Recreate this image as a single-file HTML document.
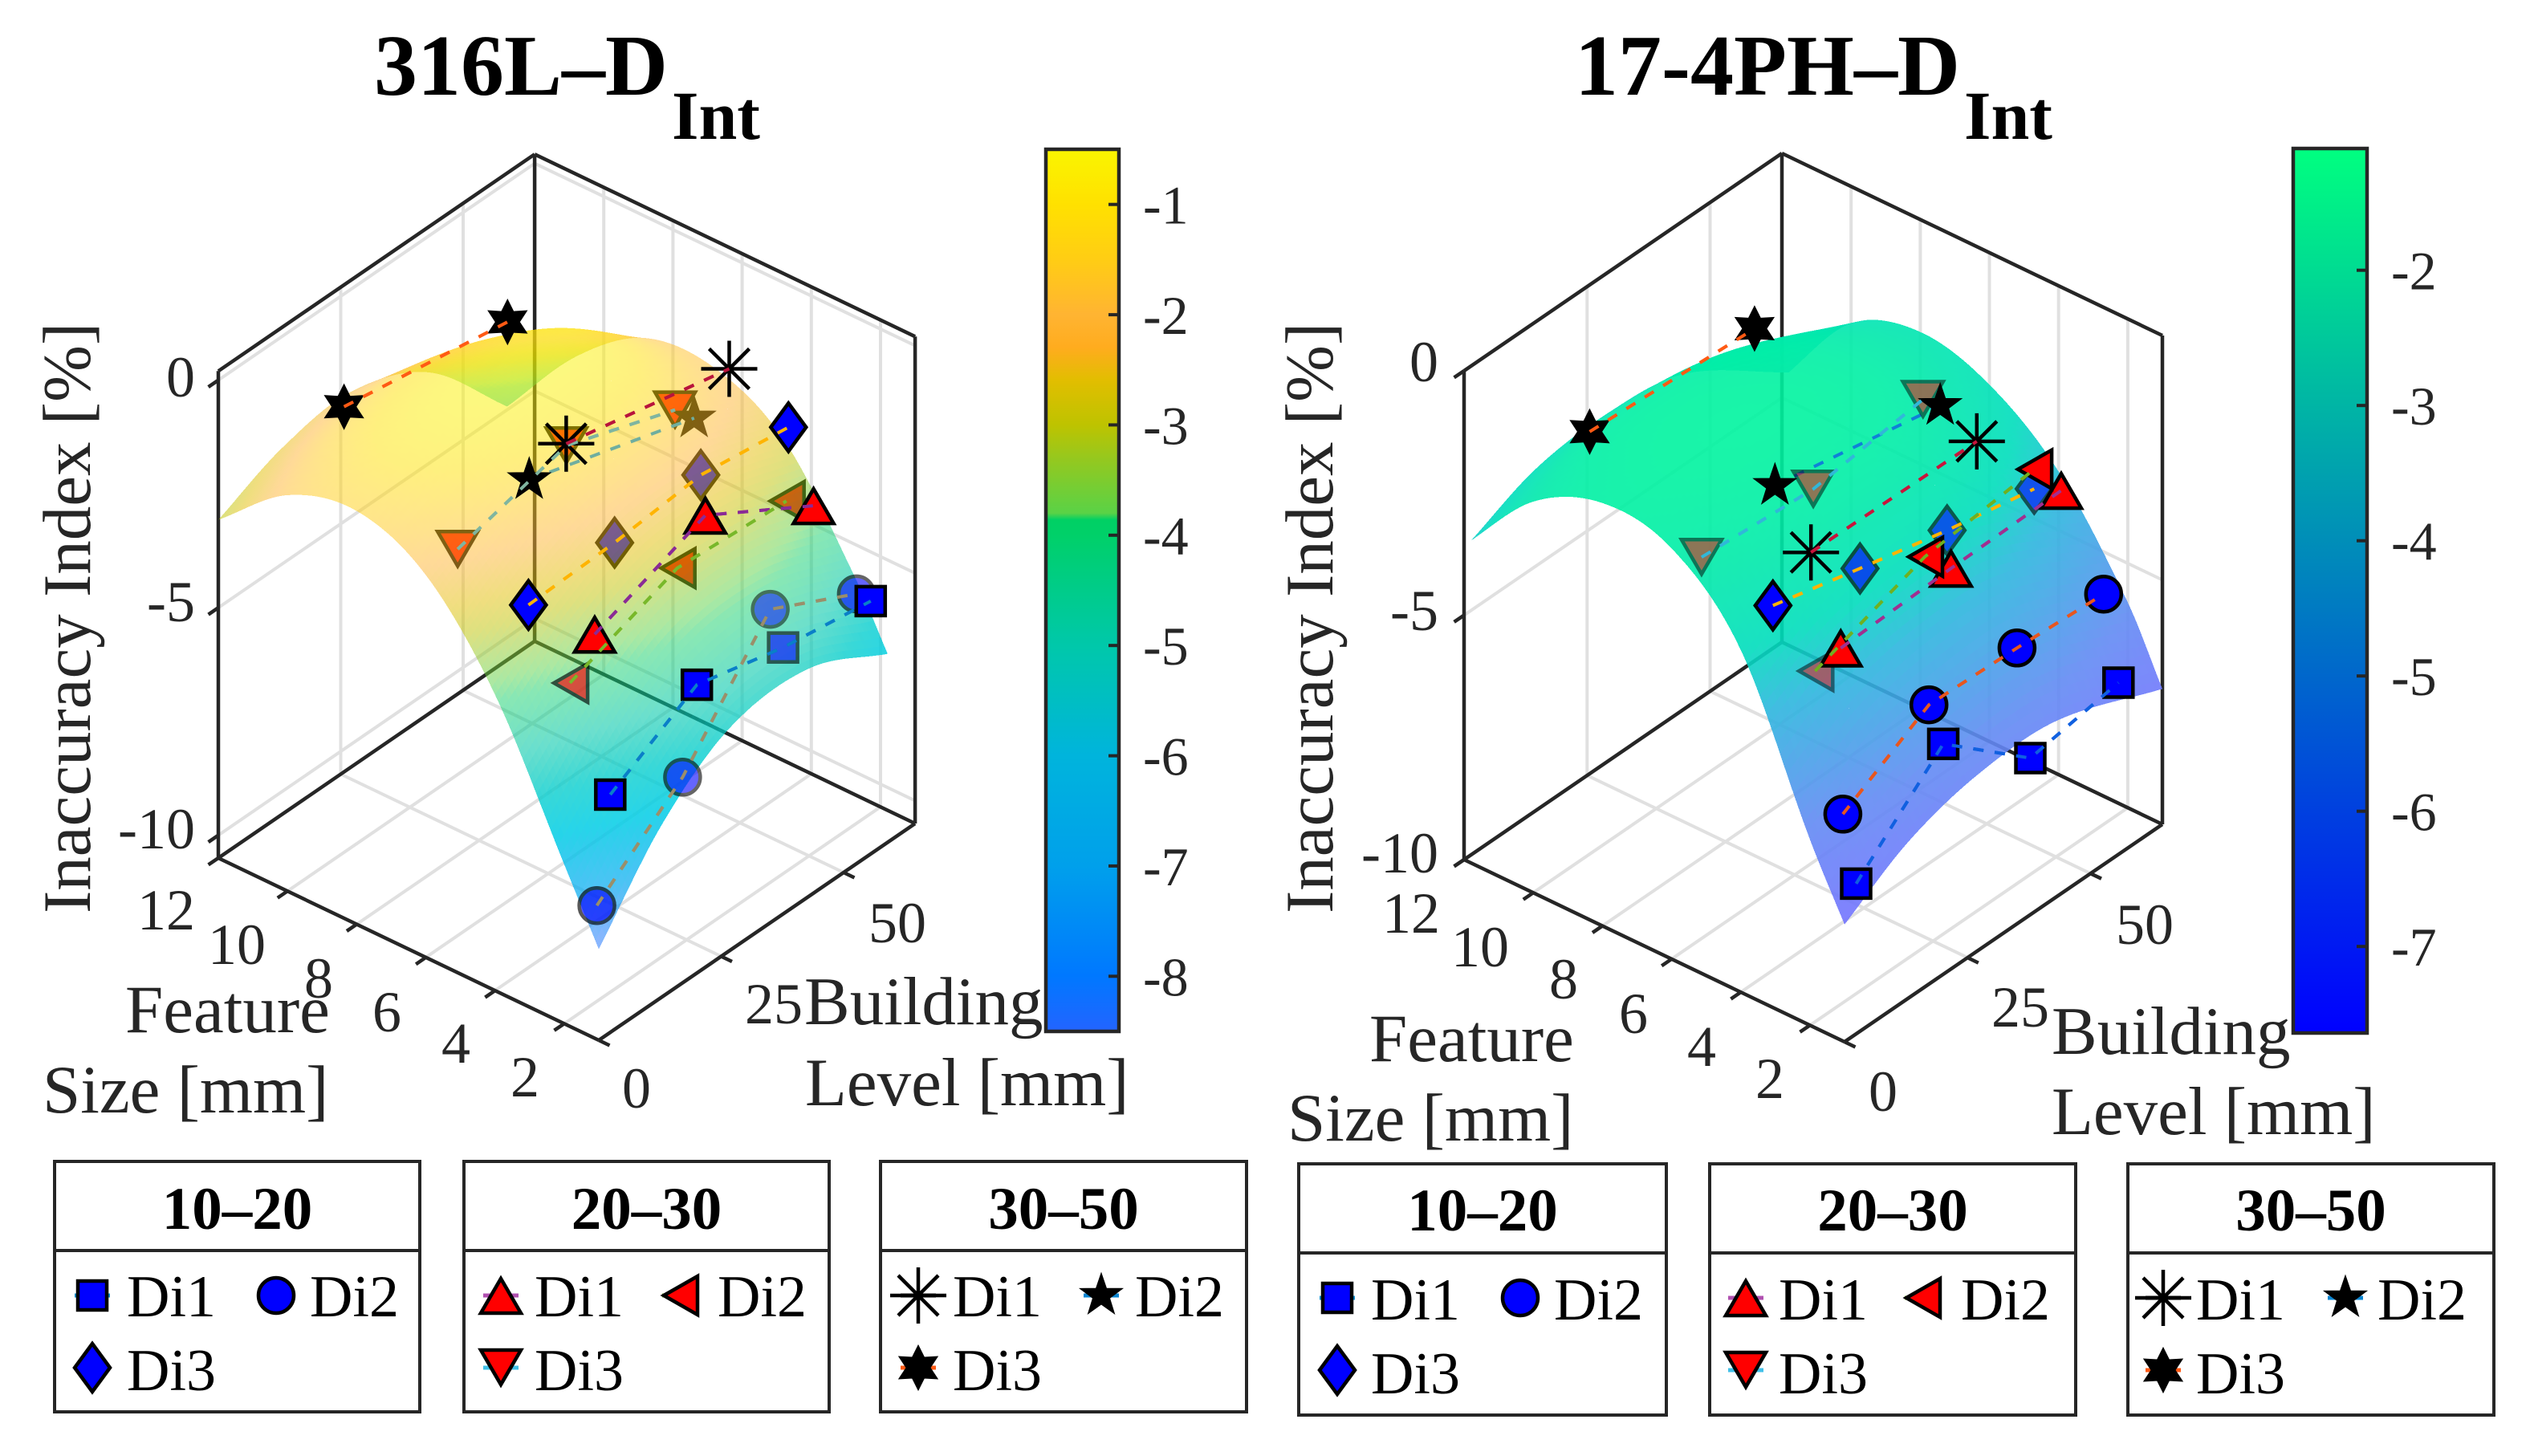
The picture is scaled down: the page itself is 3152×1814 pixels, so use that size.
<!DOCTYPE html>
<html lang="en">
<head>
<meta charset="utf-8">
<title>316L and 17-4PH inaccuracy index surfaces</title>
<style>
html,body{margin:0;padding:0;background:#fff}
svg{display:block}
text{font-family:"Liberation Serif",serif;fill:#262626}
.blk{fill:#000}
</style>
</head>
<body>
<svg id="fig" xmlns="http://www.w3.org/2000/svg" width="3152" height="1814" viewBox="0 0 3152 1814">
<rect width="3152" height="1814" fill="#fff"/>
<text class="blk" x="466" y="118" font-size="108" font-weight="bold">316L–D</text>
<text class="blk" x="837" y="173" font-size="86" font-weight="bold">Int</text>
<text class="blk" x="1962" y="118" font-size="108" font-weight="bold">17-4PH–D</text>
<text class="blk" x="2447" y="173" font-size="86" font-weight="bold">Int</text>
<text transform="translate(112,1138) rotate(-90)" font-size="85">Inaccuracy Index [%]</text>
<text transform="translate(1660,1138) rotate(-90)" font-size="85">Inaccuracy Index [%]</text>
<text x="156" y="1286" font-size="85">Feature</text>
<text x="53" y="1386" font-size="85">Size [mm]</text>
<text x="1002" y="1276" font-size="85">Building</text>
<text x="1003" y="1377" font-size="85">Level [mm]</text>
<text x="1706" y="1322" font-size="85">Feature</text>
<text x="1604" y="1421" font-size="85">Size [mm]</text>
<text x="2556" y="1313" font-size="85">Building</text>
<text x="2556" y="1413" font-size="85">Level [mm]</text>
</svg>
<script>
// ---------- shared axis data ----------
const featureTicks = [2,4,6,8,10,12];
const levelTicks = [0,25,50];
const indexTicks = [0,-5,-10];
const surfaceFeatures = [1,2,4,6,8,10,12];
const seriesLabels = ['10–20 Di1','10–20 Di2','10–20 Di3','20–30 Di1','20–30 Di2','20–30 Di3','30–50 Di1','30–50 Di2','30–50 Di3'];

// ---------- 316L surface: rows follow surfaceFeatures, columns follow leftLevels ----------
const leftLevels = [0,13,27,43,59];
const leftSurface = [
  [-8.5,-6.7,-5.6,-5.5,-6.36],
  [-7.0,-5.4,-4.4,-4.3,-4.95],
  [-4.0,-2.9,-2.2,-2.2,-2.75],
  [-2.1,-1.3,-0.9,-1.0,-1.9],
  [-1.42,-0.8,-0.55,-0.68,-1.97],
  [-1.8,-1.25,-1.05,-1.5,-3.1],
  [-3.07,-2.45,-2.25,-3.0,-4.93]
];
// ---------- 316L markers ----------
const leftSeriesFeature = [2,2.4,4.35,3,4,6,5,6,11];
const leftSeriesLevels = [
  [9.4,27.1,44.7,62.6],[9.5,27,44.9,62.5],[9.3,26.9,44.5,62.4],
  [13.3,35.9,58],[15.3,37.2,59.5],[6.5,28.7,50.9],
  [21.6,54.9],[21.1,54.8],[18.6,52]
];
const leftSeriesValues = [
  [-6.16,-5.05,-5.53,-5.83],[-8.75,-7.22,-4.85,-5.81],[-2.84,-2.77,-2.58,-2.85],
  [-3.29,-2.34,-3.76],[-4.87,-3.96,-4.13],[-2.01,-1.37,-2.22],
  [-0.44,-1.25],[-1.56,-2.69],[-1.59,-2.19]
];
// how much of each marker the surface hides: 0 none, 1 drawn beneath the surface, fraction = translucent veil
const leftSeriesCover = [
  [0,0,.4,0],[.35,.4,.5,.4],[0,1,1,0],
  [0,0,0],[.35,1,1],[1,1,1],
  [0,0],[0,1],[0,0]
];

// ---------- 17-4PH surface ----------
const rightLevels = [0,13,27,43,64.6];
const rightSurface = [
  [-7.6,-6.8,-6.4,-6.4,-7.23],
  [-6.2,-5.3,-4.9,-4.9,-5.8],
  [-3.0,-2.3,-2.1,-2.4,-3.8],
  [-1.6,-1.3,-1.2,-1.5,-2.7],
  [-1.35,-1.15,-1.12,-1.4,-2.3],
  [-2.0,-1.55,-1.5,-1.8,-2.8],
  [-3.57,-3.0,-2.85,-3.1,-4.6]
];
// ---------- 17-4PH markers ----------
const rightSeriesFeature = [2,2.4,4.35,3,4,6,5,6,11];
const rightSeriesLevels = [
  [9.4,27.1,44.8,62.7],[9.5,27,44.9,62.5],[9,26.7,44.4,62.1],
  [13.3,35.7,58.1],[15.1,37.4,59.6],[6.1,28.8,51.1],
  [21.3,55],[21,54.6],[18.5,52]
];
const rightSeriesValues = [
  [-7.75,-6.11,-7.62,-7.31],[-6.47,-5.44,-5.51,-5.62],[-2.83,-3.29,-3.73,-4.1],
  [-3.54,-3.45,-3.4],[-4.47,-3.67,-3.41],[-2.2,-2.37,-2.07],
  [-2.81,-2.86],[-1.76,-2.44],[-2.18,-2.38]
];
const rightSeriesCover = [
  [0,0,0,0],[0,0,0,0],[0,.35,.4,.4],
  [0,0,0],[.5,0,0],[.5,.5,.5],
  [0,0],[0,0],[0,0]
];

// ---------- colorbar ticks ----------
const leftBarTicks = [-1,-2,-3,-4,-5,-6,-7,-8];
const rightBarTicks = [-2,-3,-4,-5,-6,-7];

// ---------- styles ----------
const markerKinds = ['square','circle','diamond','up','left','down','asterisk','star5','star6'];
const markerFills = ['#0000ff','#0000ff','#0000ff','#ff0000','#ff0000','#ff0000','none','#000','#000'];
const leftLineColors = ['#0a7fc8','#9a8f6a','#ffb400','#8a2a96','#78b82a','#7fb5a0','#b8143c','#6fae9f','#ff5a14'];
const rightLineColors = ['#1060e0','#e8561e','#ffb400','#a03090','#70b020','#30b8d8','#c8143c','#1080d8','#ff5a14'];
const legendLineColors = ['#0a8fd0','#0000ff','#0000ff','#b050b0','#78b82a','#40c0e8','#000','#0a84d0','#ff5a14'];

const leftBarStops = [[-0.5,250,245,0],[-1,255,225,0],[-1.5,255,205,20],[-2,255,180,50],[-2.3,255,172,30],[-2.6,225,190,0],[-3,190,195,0],[-3.3,150,200,30],[-3.8,90,210,70],[-3.86,0,208,100],[-4,0,208,105],[-5,0,200,170],[-6,0,180,220],[-7,0,160,235],[-8,0,120,255],[-8.5,35,100,255]];
const rightBarStops = [[-1.1,0,255,128],[-7.64,0,0,255]];
const leftSurfaceStops = [[-0.5,250,245,0,.5],[-1,255,225,0,.5],[-2,255,180,50,.5],[-2.6,225,190,0,.5],[-3,190,195,0,.5],[-3.3,150,200,30,.5],[-3.8,90,210,70,.5],[-4.1,20,208,105,.5],[-5,0,200,170,.58],[-5.8,0,205,205,.78],[-6.5,0,205,230,.85],[-7.5,0,170,240,.7],[-8.5,35,110,255,.5]];
const rightSurfaceStops = [[-1.1,0,244,160,.9],[-2,0,233,172,.9],[-3,0,222,188,.9],[-4,44,183,222,.9],[-5,72,160,233,.9],[-6,99,138,244,.9],[-7.6,116,116,255,.9]];

const NS = 'http://www.w3.org/2000/svg';
const fig = document.getElementById('fig');
function mk(tag, attrs, parent){
  const e = document.createElementNS(NS, tag);
  for (const k in attrs) e.setAttribute(k, attrs[k]);
  (parent || fig).appendChild(e);
  return e;
}
function lerpStops(stops, v){
  const s = stops;
  if (v >= s[0][0]) return s[0].slice(1);
  if (v <= s[s.length-1][0]) return s[s.length-1].slice(1);
  for (let i = 0; i < s.length-1; i++){
    if (v <= s[i][0] && v >= s[i+1][0]){
      const t = (s[i][0]-v)/(s[i][0]-s[i+1][0]);
      return s[i].slice(1).map((c,j)=>c+(s[i+1][j+1]-c)*t);
    }
  }
}
function hermite(xs, ys, x){
  let i = 0;
  while (i < xs.length-2 && x > xs[i+1]) i++;
  const tan = k => k===0 ? (ys[1]-ys[0])/(xs[1]-xs[0]) : k===xs.length-1 ? (ys[k]-ys[k-1])/(xs[k]-xs[k-1]) : (ys[k+1]-ys[k-1])/(xs[k+1]-xs[k-1]);
  const h = xs[i+1]-xs[i], t = (x-xs[i])/h, t2 = t*t, t3 = t2*t;
  return (2*t3-3*t2+1)*ys[i]+(t3-2*t2+t)*h*tan(i)+(-2*t3+3*t2)*ys[i+1]+(t3-t2)*h*tan(i+1);
}
function surfaceAt(levels, table, x, y){
  const col = table.map(row => hermite(levels, row, y));
  return hermite(surfaceFeatures, col, x);
}

function markerShape(kind, fill, cx, cy, parent, stroke, sw){
  const g = mk('g', {transform:`translate(${cx.toFixed(1)},${cy.toFixed(1)})`}, parent);
  const edge = {fill:fill, stroke:stroke, 'stroke-width':sw, 'stroke-linejoin':'miter'};
  const poly = p => mk('polygon', Object.assign({points:p}, edge), g);
  if (kind==='square') mk('rect', Object.assign({x:-18,y:-18,width:36,height:36}, edge), g);
  else if (kind==='circle') mk('circle', Object.assign({r:22}, edge), g);
  else if (kind==='diamond') poly('0,-30 22,0 0,30 -22,0');
  else if (kind==='up') poly('0,-21 25,22 -25,22');
  else if (kind==='down') poly('-25,-22 25,-22 0,21');
  else if (kind==='left') poly('-20,0 22,-24 22,24');
  else if (kind==='asterisk'){
    mk('path', {d:'M-35,0H35M0,-35V35M-25,-25L25,25M-25,25L25,-25', stroke:stroke, 'stroke-width':4.5, fill:'none'}, g);
  } else if (kind==='star5' || kind==='star6'){
    const n = kind==='star5'?5:6, R = 28, r = kind==='star5'?11:15, pts = [];
    for (let i=0;i<2*n;i++){
      const a = -Math.PI/2 + i*Math.PI/n, q = i%2?r:R;
      pts.push((q*Math.cos(a)).toFixed(1)+','+(q*Math.sin(a)).toFixed(1));
    }
    edge['stroke-width'] = 1;
    poly(pts.join(' '));
  }
  return g;
}

function drawChart(c){
  const P = (x,y,z) => [c.F[0]+(x-1)*c.ex[0]+y*c.ey[0], c.F[1]+(x-1)*c.ex[1]+y*c.ey[1]+(z-c.zMin)*c.ez];
  const pt = a => a[0].toFixed(1)+','+a[1].toFixed(1);
  const line = (a,b,parent,st,w) => mk('line',{x1:a[0].toFixed(1),y1:a[1].toFixed(1),x2:b[0].toFixed(1),y2:b[1].toFixed(1),stroke:st,'stroke-width':w},parent);
  const X0=1, X1=12, Y1=c.yMax, Z0=c.zMin, Z1=c.zMax;
  const gridColor='#e0e0e0', gridW=4, axisColor='#262626', axisW=4.5;

  const grid = mk('g',{});
  
  
  featureTicks.forEach(v=>{
    if (v!==X1){ line(P(v,0,Z0),P(v,Y1,Z0),grid,gridColor,gridW); line(P(v,Y1,Z0),P(v,Y1,Z1),grid,gridColor,gridW); }
  });
  levelTicks.forEach(v=>{
    if (v!==0){ line(P(X0,v,Z0),P(X1,v,Z0),grid,gridColor,gridW); line(P(X1,v,Z0),P(X1,v,Z1),grid,gridColor,gridW); }
  });
  indexTicks.forEach(v=>{
    line(P(X1,0,v),P(X1,Y1,v),grid,gridColor,gridW); line(P(X1,Y1,v),P(X0,Y1,v),grid,gridColor,gridW);
  });

  const box = mk('g',{});
  
  
  [[[X1,0,Z0],[X0,0,Z0]],[[X0,0,Z0],[X0,Y1,Z0]],[[X0,Y1,Z0],[X1,Y1,Z0]],[[X1,Y1,Z0],[X1,0,Z0]],
   [[X1,0,Z0],[X1,0,Z1]],[[X0,Y1,Z0],[X0,Y1,Z1]],[[X1,Y1,Z0],[X1,Y1,Z1]],
   [[X1,0,Z1],[X1,Y1,Z1]],[[X1,Y1,Z1],[X0,Y1,Z1]]].forEach(s=>line(P(...s[0]),P(...s[1]),box,axisColor,axisW));

  // ticks + labels
  const labels = mk('g',{});
  
  
  const tickLen = 15;
  const eyLen = Math.hypot(c.ey[0],c.ey[1]), exLen = Math.hypot(c.ex[0],c.ex[1]);
  featureTicks.forEach((v,i)=>{
    const a=P(v,0,Z0);
    line(a,[a[0]-c.ey[0]/eyLen*tickLen,a[1]-c.ey[1]/eyLen*tickLen],box,axisColor,axisW);
    const t=mk('text',{x:c.xLabel[i][0],y:c.xLabel[i][1]+24,'font-size':72,'text-anchor':'middle'},labels);
    t.textContent=String(v);
  });
  levelTicks.forEach((v,i)=>{
    const a=P(X0,v,Z0);
    line(a,[a[0]+c.ex[0]/exLen*-tickLen,a[1]+c.ex[1]/exLen*-tickLen],box,axisColor,axisW);
    const t=mk('text',{x:c.yLabel[i][0],y:c.yLabel[i][1]+24,'font-size':72,'text-anchor':'middle'},labels);
    t.textContent=String(v);
  });
  indexTicks.forEach((v,i)=>{
    const a=P(X1,0,v);
    line(a,[a[0]-c.ey[0]/eyLen*tickLen,a[1]-c.ey[1]/eyLen*tickLen],box,axisColor,axisW);
    const t=mk('text',{x:c.zLabelX,y:c.zLabelY[i]+24,'font-size':72,'text-anchor':'end'},labels);
    t.textContent=String(v);
  });

  const pos = c.features.map((f,s)=>c.seriesLevels[s].map((y,i)=>P(f,y,c.seriesValues[s][i])));

  // markers truly beneath the translucent surface
  const below = mk('g',{});
  
  
  pos.forEach((arr,s)=>arr.forEach((p,i)=>{
    if (c.cover[s][i]===1){
      const m=markerShape(markerKinds[s],markerFills[s],p[0],p[1],below,'#000',4.5);
      
      
    }
  }));

  // surface (far to near)
  const surf = mk('g',{'shape-rendering':'crispEdges'});
  
  
  const NX=110, NY=88;
  const gx=i=>c.surfXMax-(c.surfXMax-1)*i/NX;
  const gy=j=>c.levels[c.levels.length-1]*(1-j/NY);
  const zv=[];
  for(let i=0;i<=NX;i++){ zv.push([]); for(let j=0;j<=NY;j++) zv[i].push(surfaceAt(c.levels,c.table,gx(i),gy(j))); }
  for(let i=0;i<NX;i++){
    for(let j=0;j<NY;j++){
      const a=P(gx(i),gy(j),zv[i][j]), b=P(gx(i+1),gy(j),zv[i+1][j]), d=P(gx(i+1),gy(j+1),zv[i+1][j+1]), e=P(gx(i),gy(j+1),zv[i][j+1]);
      const m=(zv[i][j]+zv[i+1][j]+zv[i+1][j+1]+zv[i][j+1])/4;
      const k=lerpStops(c.surfStops,m);
      mk('polygon',{points:[a,b,d,e].map(pt).join(' '),fill:`rgba(${k[0]|0},${k[1]|0},${k[2]|0},${k[3].toFixed(3)})`},surf);
    }
  }

  // series lines
  const lines = mk('g',{});
  
  
  pos.forEach((arr,s)=>{
    const pl=mk('polyline',{points:arr.map(pt).join(' '),fill:'none',stroke:c.lineColors[s],'stroke-width':4,'stroke-dasharray':'13 14'},lines);
    
    
  });

  // veiled and unobstructed markers
  const veiled = mk('g',{});
  
  
  const top = mk('g',{});
  
  
  pos.forEach((arr,s)=>arr.forEach((p,i)=>{
    const cv=c.cover[s][i];
    if (cv===1) return;
    const m=markerShape(markerKinds[s],markerFills[s],p[0],p[1],cv>0?veiled:top,'#000',4.5);
    if (cv>0) m.setAttribute('opacity',(1-cv).toFixed(2));
    
    
  }));
  // dashes that show through the markers (not the five-point stars)
  const over = mk('g',{});
  
  
  pos.forEach((arr,s)=>{
    if (s===7) return;
    const pl=mk('polyline',{points:arr.map(pt).join(' '),fill:'none',stroke:c.lineColors[s],'stroke-width':4,'stroke-dasharray':'13 14'},over);
    
    
  });

  // colorbar
  const bar = mk('g',{});
  
  
  const defs = mk('defs',{},bar);
  const grad = mk('linearGradient',{id:c.id+'-grad',x1:0,y1:0,x2:0,y2:1},defs);
  const vTop=c.barStops[0][0], vBot=c.barStops[c.barStops.length-1][0];
  c.barStops.forEach(s=>mk('stop',{offset:((vTop-s[0])/(vTop-vBot)).toFixed(4),'stop-color':`rgb(${s[1]},${s[2]},${s[3]})`},grad));
  mk('rect',{x:c.bar[0],y:c.bar[1],width:c.bar[2],height:c.bar[3],fill:`url(#${c.id}-grad)`,stroke:'#262626','stroke-width':4.5},bar);
  const V=v=>c.bar[1]+(vTop-v)/(vTop-vBot)*c.bar[3];
  c.barTicks.forEach(v=>{
    const y=V(v);
    line([c.bar[0]+c.bar[2],y],[c.bar[0]+c.bar[2]-13,y],bar,'#262626',4);
    const t=mk('text',{x:c.bar[0]+c.bar[2]+30,y:y+24,'font-size':68},bar);
    t.textContent=String(v);
  });
}

drawChart({
  id:'chart-316l',F:[746,1296],ex:[-43.09,-20.64],ey:[6.1,-4.18],ez:-56.7,zMin:-10.5,zMax:0.2,yMax:64.6,
  levels:leftLevels,table:leftSurface,surfXMax:12,surfStops:leftSurfaceStops,
  features:leftSeriesFeature,seriesLevels:leftSeriesLevels,seriesValues:leftSeriesValues,cover:leftSeriesCover,
  lineColors:leftLineColors,barStops:leftBarStops,barTicks:leftBarTicks,bar:[1303,186,91,1099],
  xLabel:[[654,1342],[568,1300],[482,1261],[397,1219],[295,1177],[207,1134]],
  yLabel:[[793,1356],[964,1251],[1118,1150]],zLabelX:243,zLabelY:[470,750,1033]
});
drawChart({
  id:'chart-17-4ph',F:[2298,1298],ex:[-43.09,-20.64],ey:[6.13,-4.195],ez:-60.9,zMin:-10,zMax:0,yMax:64.6,
  levels:rightLevels,table:rightSurface,surfXMax:11.8,surfStops:rightSurfaceStops,
  features:rightSeriesFeature,seriesLevels:rightSeriesLevels,seriesValues:rightSeriesValues,cover:rightSeriesCover,
  lineColors:rightLineColors,barStops:rightBarStops,barTicks:rightBarTicks,bar:[2857,185,92,1102],
  xLabel:[[2205,1344],[2120,1304],[2035,1263],[1948,1220],[1844,1180],[1758,1138]],
  yLabel:[[2346,1360],[2517,1255],[2672,1152]],zLabelX:1792,zLabelY:[451,761,1063]
});

// ---------- legends ----------
const legendTitles = ['10–20','20–30','30–50'];
const legendEntries = ['Di1','Di2','Di3'];
function drawLegend(id, boxes, yTop, yDiv, yBot, titleBase, rowBase, rowMark, offsets){
  boxes.forEach((b,bi)=>{
    const g = mk('g',{});
    
    
    mk('rect',{x:b[0],y:yTop,width:b[1]-b[0],height:yBot-yTop,fill:'#fff',stroke:'#262626','stroke-width':4},g);
    mk('line',{x1:b[0],x2:b[1],y1:yDiv,y2:yDiv,stroke:'#262626','stroke-width':4},g);
    const t = mk('text',{x:(b[0]+b[1])/2,y:titleBase,'font-size':75,'font-weight':'bold','text-anchor':'middle',class:'blk'},g);
    t.textContent = legendTitles[bi];
    legendEntries.forEach((name,ei)=>{
      const s = bi*3+ei;
      const o = offsets[bi][ei];
      const row = ei===2?1:0;
      const entry = mk('g',{},g);
      
      
      const mx = b[0]+o[0], my = rowMark[row];
      mk('line',{x1:mx-22,x2:mx+22,y1:my,y2:my,stroke:legendLineColors[s],'stroke-width':5},entry);
      markerShape(markerKinds[s],markerFills[s],mx,my,entry,'#000',4.5);
      const tx = mk('text',{x:b[0]+o[1],y:rowBase[row],'font-size':74,class:'blk'},entry);
      tx.textContent = name;
    });
  });
}
drawLegend('chart-316l',[[68,523],[578,1033],[1097,1553]],1447,1558,1759,1531,[1640,1732],[1614,1704],
  [[[47,90],[276,318],[47,90]],[[46,88],[269,316],[46,88]],[[47,90],[275,317],[47,90]]]);
drawLegend('chart-17-4ph',[[1618,2076],[2130,2586],[2651,3107]],1450,1561,1763,1533,[1644,1736],[1617,1707],
  [[[48,90],[276,318],[48,90]],[[45,86],[265,313],[45,86]],[[44,85],[271,311],[44,85]]]);
</script>
</body>
</html>
